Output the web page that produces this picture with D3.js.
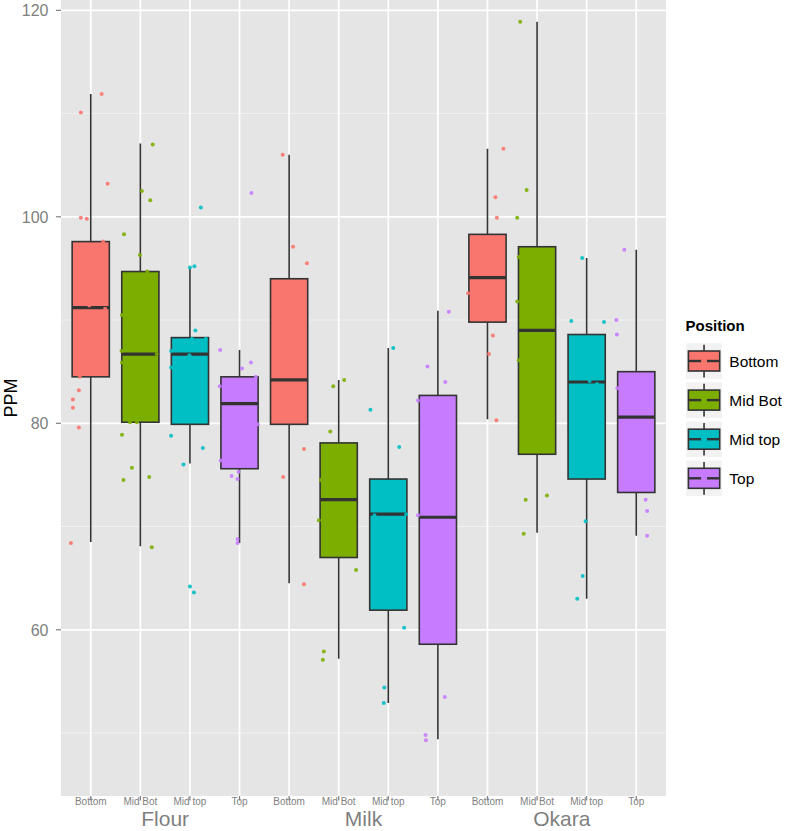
<!DOCTYPE html>
<html>
<head>
<meta charset="utf-8">
<script src="https://cdn.jsdelivr.net/npm/d3@7"></script>
<style>
  html, body { margin: 0; padding: 0; background: #ffffff; }
  svg { display: block; font-family: "Liberation Sans", Arial, Helvetica, sans-serif; }
</style>
</head>
<body>
<svg id="chart" width="786" height="831"></svg>
<script>
// ---------------- DATA ----------------
const groups = ["Flour", "Milk", "Okara"];
const positions = ["Bottom", "Mid Bot", "Mid top", "Top"];
const colors = ["#F8766D", "#7CAE00", "#00BFC4", "#C77CFF"];
const yTicks = [60, 80, 100, 120];
const yMinorTicks = [50, 70, 90, 110];

// box stats per group: [lower whisker, Q1, median, Q3, upper whisker] for each position
const flourBoxes = [
  [68.5, 84.5, 91.2, 97.6, 111.9],
  [68.1, 80.1, 86.7, 94.7, 107.1],
  [76.1, 79.9, 86.7, 88.3, 95.0],
  [68.4, 75.6, 81.9, 84.5, 87.1]
];
const milkBoxes = [
  [64.5, 79.9, 84.2, 94.0, 106.0],
  [57.2, 67.0, 72.6, 78.1, 84.2],
  [52.9, 61.9, 71.2, 74.6, 87.3],
  [49.4, 58.6, 70.9, 82.7, 90.9]
];
const okaraBoxes = [
  [80.4, 89.8, 94.1, 98.3, 106.6],
  [69.4, 77.0, 89.0, 97.1, 118.9],
  [63.0, 74.6, 84.0, 88.6, 96.0],
  [69.1, 73.3, 80.6, 85.0, 96.8]
];

// jittered observations: PPM values and their read-off jitter (in category steps)
const flourValues = [
  [111.9, 110.1, 103.2, 99.9, 99.8, 97.6, 91.4, 91.1, 84.5, 83.2, 82.3, 81.5, 79.6, 68.4],
  [107.0, 102.5, 101.6, 98.3, 96.3, 94.7, 90.5, 87.0, 86.7, 85.9, 80.1, 80.1, 78.9, 75.7, 74.8, 74.5, 68.0],
  [100.9, 95.1, 95.2, 89.0, 88.2, 88.2, 87.0, 86.6, 85.4, 78.8, 77.6, 76.0, 64.2, 63.6],
  [102.3, 87.1, 85.9, 85.3, 84.5, 83.6, 79.9, 76.4, 75.3, 74.9, 74.6, 68.8, 68.4]
];
const flourJitter = [
  [0.22, -0.20, 0.34, -0.20, -0.08, 0.25, -0.03, 0.29, -0.22, -0.24, -0.36, -0.36, -0.24, -0.40],
  [0.25, 0.03, 0.20, -0.33, -0.01, 0.14, -0.37, -0.38, 0.33, -0.37, -0.21, -0.07, -0.37, -0.17, 0.18, -0.34, 0.23],
  [0.22, 0.00, 0.09, 0.11, 0.04, 0.32, -0.38, -0.01, -0.38, -0.38, 0.26, -0.13, 0.00, 0.08],
  [0.24, -0.39, 0.23, 0.05, 0.33, -0.40, 0.37, -0.38, -0.02, -0.16, -0.04, -0.04, -0.04]
];
const milkValues = [
  [106.0, 97.1, 95.5, 77.5, 74.8, 64.4],
  [84.2, 83.6, 79.2, 74.5, 70.6, 65.8, 57.9, 57.1],
  [87.3, 81.3, 77.7, 71.1, 71.2, 60.2, 54.4, 52.9],
  [90.8, 85.5, 84.0, 82.2, 71.1, 53.5, 49.8, 49.3]
];
const milkJitter = [
  [-0.13, 0.08, 0.36, 0.30, -0.12, 0.30],
  [0.11, -0.11, -0.17, -0.36, -0.40, 0.35, -0.30, -0.32],
  [0.10, -0.36, 0.22, -0.28, 0.36, 0.32, -0.08, -0.09],
  [0.22, -0.21, 0.15, -0.40, -0.40, 0.14, -0.25, -0.24]
];
const okaraValues = [
  [106.6, 101.9, 99.9, 92.6, 88.5, 86.7, 80.3],
  [118.9, 102.6, 99.9, 96.1, 91.8, 86.1, 72.6, 73.0, 69.3],
  [96.0, 89.9, 89.8, 84.1, 83.8, 70.5, 65.2, 63.0],
  [96.8, 90.0, 88.6, 83.4, 72.6, 71.5, 69.1]
];
const okaraJitter = [
  [0.32, 0.16, 0.19, -0.39, 0.11, 0.03, 0.18],
  [-0.34, -0.21, -0.40, -0.37, -0.40, -0.37, -0.23, 0.20, -0.27],
  [-0.09, -0.31, 0.35, 0.06, 0.21, -0.02, -0.08, -0.19],
  [-0.24, -0.40, -0.39, -0.38, 0.19, 0.22, 0.22]
];

const boxesByGroup = [flourBoxes, milkBoxes, okaraBoxes];
const valuesByGroup = [flourValues, milkValues, okaraValues];
const jitterByGroup = [flourJitter, milkJitter, okaraJitter];

// ---------------- LAYOUT ----------------
const svg = d3.select("#chart");
const panel = { left: 61, right: 666, top: 0, bottom: 796 };
const textGrey = "#7F7F7F";

const cats = [];
groups.forEach((g, gi) => positions.forEach((p, pi) => cats.push({ key: g + "|" + p, group: g, pos: p, gi, pi })));

const x = d3.scalePoint().domain(cats.map(c => c.key)).range([panel.left, panel.right]).padding(0.6);
const step = x.step();
const y = d3.scaleLinear().domain([43.9, 121]).range([panel.bottom, panel.top]);

// panel background
svg.append("rect")
  .attr("x", panel.left).attr("y", panel.top)
  .attr("width", panel.right - panel.left).attr("height", panel.bottom - panel.top)
  .attr("fill", "#E5E5E5");

// minor gridlines
svg.append("g").selectAll("line").data(yMinorTicks).join("line")
  .attr("x1", panel.left).attr("x2", panel.right)
  .attr("y1", d => y(d)).attr("y2", d => y(d))
  .attr("stroke", "#F2F2F2").attr("stroke-width", 0.9);

// major gridlines
svg.append("g").selectAll("line").data(yTicks).join("line")
  .attr("x1", panel.left).attr("x2", panel.right)
  .attr("y1", d => y(d)).attr("y2", d => y(d))
  .attr("stroke", "#FFFFFF").attr("stroke-width", 1.7);
svg.append("g").selectAll("line").data(cats).join("line")
  .attr("x1", d => x(d.key)).attr("x2", d => x(d.key))
  .attr("y1", panel.top).attr("y2", panel.bottom)
  .attr("stroke", "#FFFFFF").attr("stroke-width", 1.7);

// boxes
const boxW = step * 0.75;
const boxData = cats.map(c => ({ ...c, s: boxesByGroup[c.gi][c.pi] }));
const bg = svg.append("g");
bg.selectAll(".whisk").data(boxData).join("line")
  .attr("x1", d => x(d.key)).attr("x2", d => x(d.key))
  .attr("y1", d => y(d.s[0])).attr("y2", d => y(d.s[4]))
  .attr("stroke", "#333333").attr("stroke-width", 1.6);
bg.selectAll(".box").data(boxData).join("rect")
  .attr("x", d => x(d.key) - boxW / 2).attr("width", boxW)
  .attr("y", d => y(d.s[3])).attr("height", d => y(d.s[1]) - y(d.s[3]))
  .attr("fill", d => colors[d.pi]).attr("stroke", "#333333").attr("stroke-width", 1.6);
bg.selectAll(".med").data(boxData).join("line")
  .attr("x1", d => x(d.key) - boxW / 2).attr("x2", d => x(d.key) + boxW / 2)
  .attr("y1", d => y(d.s[2])).attr("y2", d => y(d.s[2]))
  .attr("stroke", "#333333").attr("stroke-width", 3.2);

// jittered points
const pts = [];
cats.forEach(c => {
  const vals = valuesByGroup[c.gi][c.pi];
  const jit = jitterByGroup[c.gi][c.pi];
  vals.forEach((v, i) => pts.push({ key: c.key, pi: c.pi, v, j: jit[i] }));
});
svg.append("g").selectAll("circle").data(pts).join("circle")
  .attr("cx", d => x(d.key) + d.j * step)
  .attr("cy", d => y(d.v))
  .attr("r", 2)
  .attr("fill", d => colors[d.pi])
  .attr("opacity", 0.9);

// y axis
const yAxis = svg.append("g");
yAxis.selectAll("line").data(yTicks).join("line")
  .attr("x1", panel.left - 5).attr("x2", panel.left)
  .attr("y1", d => y(d)).attr("y2", d => y(d))
  .attr("stroke", textGrey).attr("stroke-width", 1.2);
yAxis.selectAll("text").data(yTicks).join("text")
  .attr("x", 48.5).attr("y", d => y(d)).attr("dy", "0.36em")
  .attr("text-anchor", "end").attr("font-size", 16).attr("fill", textGrey)
  .text(d => d);

svg.append("text")
  .attr("transform", `translate(16.5, ${(panel.top + panel.bottom) / 2}) rotate(-90)`)
  .attr("text-anchor", "middle").attr("font-size", 18).attr("fill", "#000000")
  .text("PPM");

// x axis
const xAxis = svg.append("g");
xAxis.selectAll("line").data(cats).join("line")
  .attr("x1", d => x(d.key)).attr("x2", d => x(d.key))
  .attr("y1", panel.bottom).attr("y2", panel.bottom + 4.5)
  .attr("stroke", textGrey).attr("stroke-width", 1.2);
xAxis.selectAll("text").data(cats).join("text")
  .attr("x", d => x(d.key)).attr("y", 805.3)
  .attr("text-anchor", "middle").attr("font-size", 10).attr("fill", textGrey)
  .text(d => d.pos);

// group labels
svg.append("g").selectAll("text").data(groups).join("text")
  .attr("x", (g, gi) => (x(g + "|" + positions[1]) + x(g + "|" + positions[2])) / 2)
  .attr("y", 826.3)
  .attr("text-anchor", "middle").attr("font-size", 21).attr("fill", textGrey)
  .text(d => d);

// legend
const legend = svg.append("g");
legend.append("text")
  .attr("x", 685.5).attr("y", 331)
  .attr("font-size", 15).attr("font-weight", "bold").attr("fill", "#000000")
  .text("Position");
const keyX = 685.7, keyY0 = 342.7, keySize = 36.7, keyStep = 39.1;
const keys = legend.selectAll(".key").data(positions).join("g")
  .attr("transform", (d, i) => `translate(${keyX}, ${keyY0 + i * keyStep})`);
keys.append("rect").attr("width", keySize).attr("height", keySize)
  .attr("fill", "#F2F2F2").attr("stroke", "#FFFFFF").attr("stroke-width", 1);
keys.append("line")
  .attr("x1", keySize / 2).attr("x2", keySize / 2).attr("y1", 2).attr("y2", keySize - 2)
  .attr("stroke", "#333333").attr("stroke-width", 1.6);
keys.append("rect")
  .attr("x", 2.7).attr("y", 8.3).attr("width", keySize - 5.4).attr("height", 20)
  .attr("fill", (d, i) => colors[i]).attr("stroke", "#333333").attr("stroke-width", 1.6);
keys.append("line")
  .attr("x1", 2.7).attr("x2", keySize - 2.7).attr("y1", 18.3).attr("y2", 18.3)
  .attr("stroke", "#333333").attr("stroke-width", 2.4);
keys.append("circle")
  .attr("cx", keySize / 2).attr("cy", 18.3).attr("r", 3)
  .attr("fill", (d, i) => colors[i]);
keys.append("text")
  .attr("x", 729.3 - keyX).attr("y", keySize / 2 + 6)
  .attr("font-size", 15.5).attr("fill", "#000000")
  .text(d => d);
</script>
</body>
</html>
